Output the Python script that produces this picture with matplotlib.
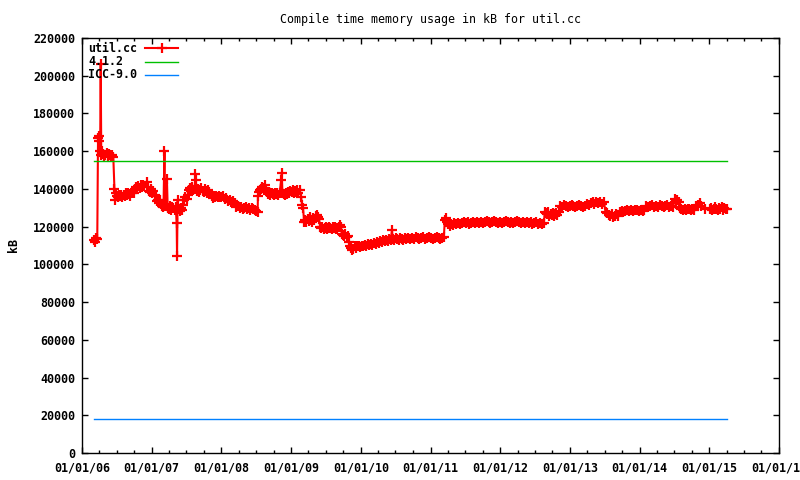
import numpy as np
import pandas as pd
import matplotlib
matplotlib.use("Agg")
import matplotlib.pyplot as plt
import matplotlib.dates as mdates

# util.cc compile-time memory (kB)
util_cc = [
    ("2006-03-07", 113000), ("2006-03-12", 112000), ("2006-03-17", 114000), ("2006-03-22", 113500),
    ("2006-03-26", 167000), ("2006-03-29", 165500), ("2006-04-02", 168000), ("2006-04-06", 160000),
    ("2006-04-09", 206000), ("2006-04-12", 158000), ("2006-04-17", 160000), ("2006-04-22", 158500),
    ("2006-04-28", 157500), ("2006-05-04", 158000), ("2006-05-10", 159000), ("2006-05-16", 157500),
    ("2006-05-22", 158500), ("2006-05-28", 158000), ("2006-06-03", 157500), ("2006-06-09", 158000),
    ("2006-06-14", 157000), ("2006-06-20", 140000), ("2006-06-23", 134000), ("2006-06-26", 138000),
    ("2006-07-02", 136500), ("2006-07-08", 135500), ("2006-07-14", 137000), ("2006-07-20", 136000),
    ("2006-07-26", 137000), ("2006-08-01", 135800), ("2006-08-07", 137000), ("2006-08-13", 136500),
    ("2006-08-19", 138000), ("2006-08-25", 137000), ("2006-08-31", 138000), ("2006-09-06", 137500),
    ("2006-09-12", 136000), ("2006-09-18", 138000), ("2006-09-24", 139000), ("2006-09-30", 138000),
    ("2006-10-06", 140000), ("2006-10-12", 141000), ("2006-10-18", 140000), ("2006-10-24", 141500),
    ("2006-10-30", 140500), ("2006-11-05", 142000), ("2006-11-11", 141000), ("2006-11-17", 142000),
    ("2006-11-23", 141500), ("2006-12-05", 143500), ("2006-12-11", 141000), ("2006-12-17", 139000),
    ("2006-12-23", 138500), ("2006-12-29", 140000),
    ("2007-01-04", 138000), ("2007-01-10", 139000), ("2007-01-16", 137000), ("2007-01-22", 136000),
    ("2007-01-28", 133500), ("2007-02-03", 134000), ("2007-02-09", 132500), ("2007-02-14", 134000),
    ("2007-02-20", 132000), ("2007-02-26", 131000), ("2007-03-04", 130500), ("2007-03-09", 160000),
    ("2007-03-12", 131000), ("2007-03-18", 131500), ("2007-03-22", 145000), ("2007-03-26", 130000),
    ("2007-04-01", 129500), ("2007-04-07", 131000), ("2007-04-13", 129000), ("2007-04-19", 130500),
    ("2007-04-25", 130000), ("2007-05-01", 129000), ("2007-05-07", 130500), ("2007-05-12", 122000),
    ("2007-05-14", 104500), ("2007-05-17", 134000), ("2007-05-22", 129500), ("2007-05-28", 128500),
    ("2007-06-03", 130000), ("2007-06-09", 129000), ("2007-06-15", 131500), ("2007-06-21", 134000),
    ("2007-06-27", 135500), ("2007-07-03", 134500), ("2007-07-09", 137000), ("2007-07-15", 139500),
    ("2007-07-21", 140500), ("2007-07-27", 139000), ("2007-08-02", 141000), ("2007-08-08", 139500),
    ("2007-08-14", 140000), ("2007-08-18", 148000), ("2007-08-20", 144500), ("2007-08-26", 139000),
    ("2007-09-01", 140000), ("2007-09-07", 138500), ("2007-09-13", 139500), ("2007-09-19", 140500),
    ("2007-09-25", 139000), ("2007-10-01", 138500), ("2007-10-07", 140000), ("2007-10-13", 139000),
    ("2007-10-19", 138000), ("2007-10-25", 139500), ("2007-10-31", 138500), ("2007-11-06", 137500),
    ("2007-11-12", 136500), ("2007-11-18", 135000), ("2007-11-24", 136000), ("2007-11-30", 135500),
    ("2007-12-06", 136500), ("2007-12-12", 135500), ("2007-12-18", 136000), ("2007-12-24", 135500),
    ("2008-01-01", 135500), ("2008-01-10", 136000), ("2008-01-19", 134500), ("2008-01-28", 135000),
    ("2008-02-06", 133500), ("2008-02-14", 134000), ("2008-02-22", 133000), ("2008-03-02", 133500),
    ("2008-03-11", 132500), ("2008-03-19", 130500), ("2008-03-28", 131000), ("2008-04-06", 130000),
    ("2008-04-14", 130500), ("2008-04-22", 129500), ("2008-04-30", 130000), ("2008-05-08", 130500),
    ("2008-05-16", 129500), ("2008-05-24", 130000), ("2008-06-01", 129000), ("2008-06-09", 130000),
    ("2008-06-17", 129500), ("2008-06-25", 129000), ("2008-07-03", 128500), ("2008-07-09", 127500),
    ("2008-07-11", 136500), ("2008-07-16", 138500), ("2008-07-22", 139500), ("2008-07-28", 140000),
    ("2008-08-03", 141000), ("2008-08-09", 140500), ("2008-08-15", 142000), ("2008-08-21", 140000),
    ("2008-08-27", 138500), ("2008-09-02", 137500), ("2008-09-08", 138500), ("2008-09-14", 137000),
    ("2008-09-20", 138000), ("2008-09-26", 137500), ("2008-10-02", 137000), ("2008-10-08", 138000),
    ("2008-10-14", 137500), ("2008-10-20", 138000), ("2008-10-26", 137000), ("2008-11-01", 138000),
    ("2008-11-10", 144700), ("2008-11-13", 148400), ("2008-11-16", 138000), ("2008-11-22", 137500),
    ("2008-11-28", 137000), ("2008-12-04", 138000), ("2008-12-10", 137500), ("2008-12-16", 138500),
    ("2008-12-22", 138000), ("2008-12-28", 139000),
    ("2009-01-03", 138500), ("2009-01-09", 139500), ("2009-01-15", 138000), ("2009-01-21", 139000),
    ("2009-01-27", 138500), ("2009-02-02", 139500), ("2009-02-08", 138000), ("2009-02-14", 139400),
    ("2009-02-22", 135700), ("2009-02-27", 131400), ("2009-03-04", 130000), ("2009-03-10", 122500),
    ("2009-03-16", 123500), ("2009-03-22", 122500), ("2009-03-28", 124000), ("2009-04-03", 123000),
    ("2009-04-09", 125000), ("2009-04-15", 123500), ("2009-04-21", 122500), ("2009-04-27", 124500),
    ("2009-05-03", 123500), ("2009-05-09", 125500), ("2009-05-15", 126000), ("2009-05-21", 125000),
    ("2009-05-27", 124000), ("2009-06-02", 120000), ("2009-06-08", 119500), ("2009-06-14", 120000),
    ("2009-06-20", 119000), ("2009-06-26", 119500), ("2009-07-02", 120000), ("2009-07-08", 119000),
    ("2009-07-14", 119500), ("2009-07-20", 120000), ("2009-07-26", 119500), ("2009-08-01", 119000),
    ("2009-08-07", 120000), ("2009-08-13", 119500), ("2009-08-19", 120000), ("2009-08-25", 119000),
    ("2009-08-31", 119500), ("2009-09-06", 120000), ("2009-09-12", 121000), ("2009-09-18", 120000),
    ("2009-09-24", 116000), ("2009-09-30", 115500), ("2009-10-06", 115000), ("2009-10-12", 116000),
    ("2009-10-18", 114500), ("2009-10-24", 115000), ("2009-10-30", 112000), ("2009-11-05", 109500),
    ("2009-11-11", 108500), ("2009-11-17", 107500), ("2009-11-23", 108000), ("2009-11-29", 109500),
    ("2009-12-05", 108500), ("2009-12-11", 110000), ("2009-12-17", 109500), ("2009-12-23", 110000),
    ("2009-12-29", 109000),
    ("2010-01-06", 110000), ("2010-01-14", 109500), ("2010-01-22", 110500), ("2010-01-30", 110000),
    ("2010-02-07", 111000), ("2010-02-15", 110500), ("2010-02-23", 111000), ("2010-03-03", 110500),
    ("2010-03-11", 111500), ("2010-03-19", 111000), ("2010-03-27", 112000), ("2010-04-04", 111500),
    ("2010-04-12", 112500), ("2010-04-20", 112000), ("2010-04-28", 113000), ("2010-05-06", 112500),
    ("2010-05-14", 113000), ("2010-05-22", 112500), ("2010-05-30", 113500), ("2010-06-07", 113000),
    ("2010-06-13", 118200), ("2010-06-17", 113500), ("2010-06-25", 113000), ("2010-07-03", 114000),
    ("2010-07-11", 113500), ("2010-07-19", 113000), ("2010-07-27", 114000), ("2010-08-04", 113500),
    ("2010-08-12", 113000), ("2010-08-20", 114000), ("2010-08-28", 113500), ("2010-09-05", 114000),
    ("2010-09-15", 113500), ("2010-09-25", 114000), ("2010-10-05", 113500), ("2010-10-15", 114500),
    ("2010-10-25", 114000), ("2010-11-04", 113500), ("2010-11-14", 114000), ("2010-11-24", 114500),
    ("2010-12-04", 113500), ("2010-12-14", 114000), ("2010-12-24", 114500),
    ("2011-01-03", 114000), ("2011-01-13", 113500), ("2011-01-23", 114000), ("2011-02-02", 114500),
    ("2011-02-12", 114000), ("2011-02-22", 113500), ("2011-03-04", 114000), ("2011-03-12", 114500),
    ("2011-03-17", 123500), ("2011-03-22", 124500), ("2011-03-28", 122500), ("2011-04-03", 121500),
    ("2011-04-09", 122000), ("2011-04-15", 120500), ("2011-04-21", 121500), ("2011-04-27", 121000),
    ("2011-05-05", 122000), ("2011-05-15", 121500), ("2011-05-25", 122000), ("2011-06-04", 121500),
    ("2011-06-14", 122000), ("2011-06-24", 122500), ("2011-07-04", 122000), ("2011-07-14", 122500),
    ("2011-07-24", 121500), ("2011-08-03", 122000), ("2011-08-13", 122500), ("2011-08-23", 122000),
    ("2011-09-02", 122500), ("2011-09-12", 122000), ("2011-09-22", 122500), ("2011-10-02", 122000),
    ("2011-10-12", 122500), ("2011-10-22", 123000), ("2011-11-01", 122500), ("2011-11-11", 122000),
    ("2011-11-21", 122500), ("2011-12-01", 123000), ("2011-12-11", 122500), ("2011-12-21", 122000),
    ("2011-12-31", 122500),
    ("2012-01-10", 122000), ("2012-01-20", 122500), ("2012-01-30", 123000), ("2012-02-09", 122500),
    ("2012-02-19", 122000), ("2012-02-29", 122500), ("2012-03-10", 122000), ("2012-03-20", 122500),
    ("2012-03-30", 123000), ("2012-04-09", 122500), ("2012-04-19", 122000), ("2012-04-29", 122500),
    ("2012-05-09", 122000), ("2012-05-19", 122500), ("2012-05-29", 122000), ("2012-06-08", 122500),
    ("2012-06-18", 121500), ("2012-06-28", 122000), ("2012-07-08", 122500), ("2012-07-18", 121500),
    ("2012-07-28", 122000), ("2012-08-07", 121500), ("2012-08-17", 122000), ("2012-08-22", 128000),
    ("2012-08-28", 127000), ("2012-09-03", 126500), ("2012-09-09", 127500), ("2012-09-15", 125500),
    ("2012-09-21", 126500), ("2012-09-27", 126000), ("2012-10-03", 127000), ("2012-10-09", 125500),
    ("2012-10-15", 126500), ("2012-10-21", 127000), ("2012-10-27", 126000), ("2012-11-02", 127500),
    ("2012-11-10", 131000), ("2012-11-20", 130500), ("2012-11-30", 131500), ("2012-12-10", 131000),
    ("2012-12-20", 130500), ("2012-12-30", 131000),
    ("2013-01-09", 131500), ("2013-01-19", 131000), ("2013-01-29", 130500), ("2013-02-08", 131000),
    ("2013-02-18", 131500), ("2013-02-28", 131000), ("2013-03-10", 130500), ("2013-03-20", 131000),
    ("2013-03-30", 132000), ("2013-04-09", 131500), ("2013-04-19", 132500), ("2013-04-29", 133000),
    ("2013-05-09", 132000), ("2013-05-19", 133000), ("2013-05-29", 132500), ("2013-06-08", 133000),
    ("2013-06-18", 132000), ("2013-06-28", 133000), ("2013-07-06", 127700), ("2013-07-14", 127000),
    ("2013-07-22", 126000), ("2013-07-30", 125500), ("2013-08-07", 126500), ("2013-08-15", 125000),
    ("2013-08-23", 125500), ("2013-08-31", 126500), ("2013-09-08", 125500), ("2013-09-18", 128000),
    ("2013-09-28", 128500), ("2013-10-08", 127500), ("2013-10-18", 128500), ("2013-10-28", 129000),
    ("2013-11-07", 128500), ("2013-11-17", 129000), ("2013-11-27", 128500), ("2013-12-07", 128800),
    ("2013-12-17", 129000), ("2013-12-27", 128500),
    ("2014-01-06", 129000), ("2014-01-16", 128500), ("2014-01-26", 129000), ("2014-02-05", 131000),
    ("2014-02-15", 130500), ("2014-02-25", 131000), ("2014-03-07", 131500), ("2014-03-17", 130500),
    ("2014-03-27", 131000), ("2014-04-06", 130500), ("2014-04-16", 131500), ("2014-04-26", 131000),
    ("2014-05-06", 130500), ("2014-05-16", 131000), ("2014-05-26", 131500), ("2014-06-05", 130500),
    ("2014-06-15", 131000), ("2014-06-25", 130500), ("2014-07-03", 134500), ("2014-07-10", 133500),
    ("2014-07-17", 134000), ("2014-07-24", 133000), ("2014-07-31", 130000), ("2014-08-08", 129500),
    ("2014-08-16", 129000), ("2014-08-24", 129500), ("2014-09-01", 129000), ("2014-09-09", 129500),
    ("2014-09-17", 129300), ("2014-09-25", 129000), ("2014-10-03", 129500), ("2014-10-11", 129000),
    ("2014-10-25", 131000), ("2014-11-04", 131500), ("2014-11-14", 132500), ("2014-11-20", 131000),
    ("2014-12-10", 129500),
    ("2015-01-02", 129500), ("2015-01-09", 130000), ("2015-01-16", 129000), ("2015-01-23", 129500),
    ("2015-01-30", 130500), ("2015-02-06", 129500), ("2015-02-13", 129000), ("2015-02-20", 130000),
    ("2015-02-27", 129500), ("2015-03-06", 130500), ("2015-03-13", 129000), ("2015-03-20", 130000),
    ("2015-03-27", 129500), ("2015-04-06", 129500),
]
gcc_412_kb = 155000
icc_90_kb = 18000
y_ticks = list(range(0, 220001, 20000))
series_names = ["util.cc", "4.1.2", "ICC-9.0"]
series_colors = ["#ff0000", "#00c000", "#0080ff"]

dates = pd.to_datetime([d for d, _ in util_cc])
kb = np.array([v for _, v in util_cc])
span = [dates[0], dates[-1]]

mono = "DejaVu Sans Mono"
fs = 8.4

fig = plt.figure(figsize=(8, 4.8), dpi=100)
ax = fig.add_axes([82 / 800, 1 - 453 / 480, 697 / 800, 415 / 480])

ax.plot(dates, kb, color=series_colors[0], lw=1.5, marker="+", ms=7, mew=1.6)
ax.plot(span, [gcc_412_kb, gcc_412_kb], color=series_colors[1], lw=1.0)
ax.plot(span, [icc_90_kb, icc_90_kb], color=series_colors[2], lw=1.0)

ax.set_xlim(pd.Timestamp("2006-01-01"), pd.Timestamp("2016-01-01"))
ax.set_ylim(0, 220000)
ax.set_yticks(y_ticks)
ax.xaxis.set_major_locator(mdates.YearLocator())
ax.xaxis.set_minor_locator(mdates.MonthLocator(bymonth=[4, 7, 10]))
ax.xaxis.set_major_formatter(mdates.DateFormatter("%m/%d/%y"))

ax.tick_params(which="both", direction="in", top=True, right=True, width=1.0, color="black")
ax.tick_params(which="major", length=4)
ax.tick_params(which="minor", length=2)
ax.tick_params(axis="x", pad=6)
ax.tick_params(axis="y", pad=5)
for lab in ax.get_xticklabels() + ax.get_yticklabels():
    lab.set_fontfamily(mono)
    lab.set_fontweight("bold")
    lab.set_fontsize(fs)
for sp in ax.spines.values():
    sp.set_linewidth(1.0)

fig.text(430 / 800, 1 - 19 / 480, "Compile time memory usage in kB for util.cc",
         ha="center", va="center", fontfamily=mono, fontsize=fs)
fig.text(13 / 800, 1 - 245 / 480, "kB", rotation=90, ha="center", va="center",
         fontfamily=mono, fontweight="bold", fontsize=fs)

# gnuplot style key: left-aligned text, sample line to the right
for i, (name, col) in enumerate(zip(series_names, series_colors)):
    ky = 1 - (10 + 13.5 * i) / 415
    ax.text(6 / 697, ky, name, transform=ax.transAxes, ha="left", va="center",
            fontfamily=mono, fontweight="bold", fontsize=fs)
    ax.plot([63 / 697, 96 / 697], [ky, ky], transform=ax.transAxes, color=col,
            lw=1.5 if i == 0 else 1.0, clip_on=False)
    if i == 0:
        ax.plot([79.5 / 697], [ky], transform=ax.transAxes, color=col, marker="+",
                ms=7, mew=1.6, clip_on=False)

fig.savefig("out.png", dpi=100)
